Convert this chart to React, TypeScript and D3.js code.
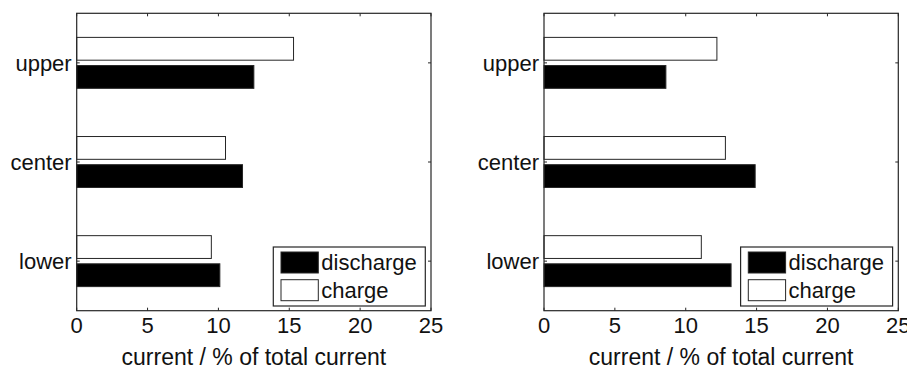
import React, { useEffect, useRef } from "react";
import * as d3 from "d3";

// categories from top to bottom
const categories = ["upper", "center", "lower"];
const xTicks = [0, 5, 10, 15, 20, 25];

// left panel
const dischargeLeft = [12.5, 11.7, 10.1];
const chargeLeft = [15.3, 10.5, 9.5];

// right panel
const dischargeRight = [8.6, 14.9, 13.2];
const chargeRight = [12.2, 12.8, 11.1];

const legendItems = [
  { label: "discharge", fill: "#000" },
  { label: "charge", fill: "#fff" },
];

const FONT = "'Liberation Sans', Arial, sans-serif";
const INK = "#262626";

const drawPanel = (svg, left, right, top, bottom, discharge, charge) => {
  const x = d3.scaleLinear().domain([0, 25]).range([left, right]);
  // category positions 1..3, padded half a step at each end
  const y = d3.scaleLinear().domain([0.5, 3.5]).range([top, bottom]);
  const g = svg.append("g");
  const barH = y(0.23) - y(0);

  // bars: charge above the tick, discharge below
  categories.forEach((c, i) => {
    const pos = i + 1;
    g.append("rect")
      .attr("x", x(0))
      .attr("y", y(pos - 0.142) - barH / 2)
      .attr("width", x(charge[i]) - x(0))
      .attr("height", barH)
      .attr("fill", "#fff")
      .attr("stroke", INK)
      .attr("stroke-width", 1);
    g.append("rect")
      .attr("x", x(0))
      .attr("y", y(pos + 0.142) - barH / 2)
      .attr("width", x(discharge[i]) - x(0))
      .attr("height", barH)
      .attr("fill", "#000")
      .attr("stroke", INK)
      .attr("stroke-width", 1);
  });

  // frame
  g.append("rect")
    .attr("x", left)
    .attr("y", top)
    .attr("width", right - left)
    .attr("height", bottom - top)
    .attr("fill", "none")
    .attr("stroke", INK)
    .attr("stroke-width", 1.2);

  // x ticks (inside, top and bottom)
  xTicks.forEach((t) => {
    g.append("line")
      .attr("x1", x(t)).attr("x2", x(t))
      .attr("y1", bottom).attr("y2", bottom - 3)
      .attr("stroke", INK);
    g.append("line")
      .attr("x1", x(t)).attr("x2", x(t))
      .attr("y1", top).attr("y2", top + 3)
      .attr("stroke", INK);
    g.append("text")
      .attr("x", x(t))
      .attr("y", bottom + 22)
      .attr("text-anchor", "middle")
      .style("font-family", FONT)
      .style("font-size", "22px")
      .attr("fill", "#111")
      .text(t);
  });

  // y ticks and labels
  categories.forEach((c, i) => {
    const yy = y(i + 1);
    g.append("line")
      .attr("x1", left).attr("x2", left + 3)
      .attr("y1", yy).attr("y2", yy)
      .attr("stroke", INK);
    g.append("line")
      .attr("x1", right).attr("x2", right - 3)
      .attr("y1", yy).attr("y2", yy)
      .attr("stroke", INK);
    g.append("text")
      .attr("x", left - 5)
      .attr("y", yy)
      .attr("dy", "0.35em")
      .attr("text-anchor", "end")
      .style("font-family", FONT)
      .style("font-size", "22px")
      .attr("fill", "#111")
      .text(c);
  });

  // axis title
  g.append("text")
    .attr("x", (left + right) / 2)
    .attr("y", 365)
    .attr("text-anchor", "middle")
    .style("font-family", FONT)
    .style("font-size", "23px")
    .attr("fill", "#111")
    .text("current / % of total current");

  // legend
  const lw = 152;
  const lh = 59;
  const lx = right - 5.7 - lw;
  const ly = bottom - 4.7 - lh;
  g.append("rect")
    .attr("x", lx).attr("y", ly)
    .attr("width", lw).attr("height", lh)
    .attr("fill", "#fff")
    .attr("stroke", INK)
    .attr("stroke-width", 1.2);
  legendItems.forEach((d, i) => {
    const sy = ly + 5 + i * 27.7;
    g.append("rect")
      .attr("x", lx + 7.7).attr("y", sy)
      .attr("width", 37.3).attr("height", 21)
      .attr("fill", d.fill)
      .attr("stroke", INK);
    g.append("text")
      .attr("x", lx + 48)
      .attr("y", sy + 10.5)
      .attr("dy", "0.35em")
      .style("font-family", FONT)
      .style("font-size", "22px")
      .attr("fill", "#111")
      .text(d.label);
  });
};

export default function App() {
  const ref = useRef<SVGSVGElement>(null);

  useEffect(() => {
    if (!ref.current) return;
    const svg = d3.select(ref.current);
    svg.selectAll("*").remove();
    svg.append("rect").attr("width", 907).attr("height", 369).attr("fill", "#fff");
    drawPanel(svg, 76.7, 431, 13.3, 310.7, dischargeLeft, chargeLeft);
    drawPanel(svg, 544, 898.3, 13.3, 310.7, dischargeRight, chargeRight);
  }, []);

  return (
    <svg
      ref={ref}
      width={907}
      height={369}
      style={{ position: "absolute", left: 0, top: 0, display: "block" }}
    />
  );
}
